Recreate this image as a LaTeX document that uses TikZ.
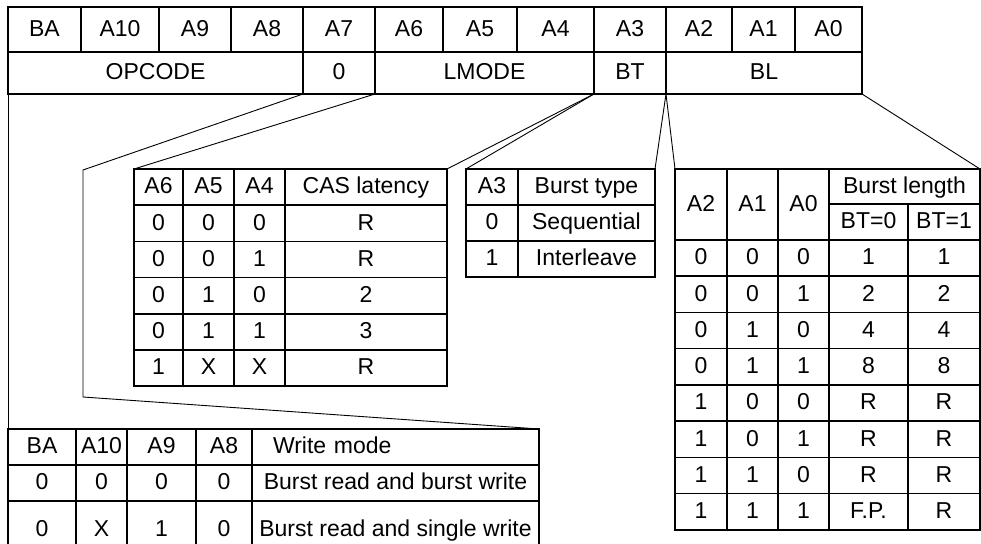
\documentclass[tikz,border=0pt]{standalone}
\usepackage{fontspec}
\setmainfont{Liberation Sans}
\usetikzlibrary{positioning}
\tikzset{
  cell/.style 2 args={draw, line width=.75pt, anchor=north west, inner sep=0pt, outer sep=0pt,
    text height=1.55ex, text depth=.25ex,
    minimum width={(#1)*.5pt}, minimum height={(#2)*.5pt}},
  wire/.style={line width=.45pt}
}
\begin{document}
\begin{tikzpicture}[x=.5pt, y=-.5pt, font=\fontsize{11.5}{13}\selectfont]
  \useasboundingbox (0,0) rectangle (981,544);
  \clip (0,0) rectangle (981,544);
  \foreach \n/\txt/\xa/\xb in {ba/BA/8/81, a10/A10/81/159, a9/A9/159/231, a8/A8/231/303,
      a7/A7/303/375, a6/A6/375/443, a5/A5/443/517, a4/A4/517/594, a3/A3/594/666,
      a2/A2/666/732, a1/A1/732/795, a0/A0/795/862}
    \node[cell={\xb-\xa}{45}] (\n) at (\xa,7) {\txt};
  \foreach \n/\txt/\xa/\xb in {opcode/OPCODE/8/303, zero/0/303/375, lmode/LMODE/375/594,
      bt/BT/594/666, bl/BL/666/862}
    \node[cell={\xb-\xa}{42}] (\n) at (\xa,52) {\txt};

  \def\casx{{134,183,234,285,447}}
  \foreach \row [count=\ri from 0] in {{A6,A5,A4,CAS latency},{0,0,0,R},{0,0,1,R},{0,1,0,2},{0,1,1,3},{1,X,X,R}}
    \foreach \txt [count=\ci from 0] in \row {
      \pgfmathsetmacro\xa{\casx[\ci]}
      \pgfmathsetmacro\xb{\casx[\ci+1]}
      \node[cell={\xb-\xa}{36.2}] (cas-\ri-\ci) at (\xa,169+36.2*\ri) {\txt};
    }

  \def\btx{{466,518,655}}
  \foreach \row [count=\ri from 0] in {{A3,Burst type},{0,Sequential},{1,Interleave}}
    \foreach \txt [count=\ci from 0] in \row {
      \pgfmathsetmacro\xa{\btx[\ci]}
      \pgfmathsetmacro\xb{\btx[\ci+1]}
      \node[cell={\xb-\xa}{36}] (btt-\ri-\ci) at (\xa,169+36*\ri) {\txt};
    }

  \def\blx{{675,727,778,829,908,980}}
  \foreach \n/\txt [count=\ci from 0] in {a2/A2,a1/A1,a0/A0} {
    \pgfmathsetmacro\xa{\blx[\ci]}
    \pgfmathsetmacro\xb{\blx[\ci+1]}
    \node[cell={\xb-\xa}{71}] (blen-\n) at (\xa,169) {\txt};
  }
  \node[cell={151}{35}] (blen-len) at (829,169) {Burst length};
  \node[cell={79}{36}] (blen-bt0) at (829,204) {BT=0};
  \node[cell={72}{36}] (blen-bt1) at (908,204) {BT=1};
  \foreach \row [count=\ri from 0] in {{0,0,0,1,1},{0,0,1,2,2},{0,1,0,4,4},{0,1,1,8,8},
      {1,0,0,R,R},{1,0,1,R,R},{1,1,0,R,R},{1,1,1,F.P.,R}}
    \foreach \txt [count=\ci from 0] in \row {
      \pgfmathsetmacro\xa{\blx[\ci]}
      \pgfmathsetmacro\xb{\blx[\ci+1]}
      \node[cell={\xb-\xa}{36.25}] (blen-\ri-\ci) at (\xa,240+36.25*\ri) {\txt};
    }

  \def\wmx{{8,76,127,196,252,539}}
  \def\wmy{{429,465,501,559}}
  \foreach \txt [count=\ci from 0] in {BA,A10,A9,A8} {
    \pgfmathsetmacro\xa{\wmx[\ci]}
    \pgfmathsetmacro\xb{\wmx[\ci+1]}
    \node[cell={\xb-\xa}{36}] (wm-0-\ci) at (\xa,429) {\txt};
  }
  \node[cell={287}{36}, text width={245*.5pt}, align=left] (wm-0-4) at (252,429) {Write mode};
  \foreach \row [count=\ri from 1] in {{0,0,0,0,Burst read and burst write},{0,X,1,0,Burst read and single write}}
    \foreach \txt [count=\ci from 0] in \row {
      \pgfmathsetmacro\xa{\wmx[\ci]}
      \pgfmathsetmacro\xb{\wmx[\ci+1]}
      \pgfmathsetmacro\ya{\wmy[\ri]}
      \pgfmathsetmacro\yb{\wmy[\ri+1]}
      \node[cell={\xb-\xa}{\yb-\ya}] (wm-\ri-\ci) at (\xa,\ya) {\txt};
    }

  \coordinate (kneeT) at (83,170);
  \coordinate (kneeB) at (83,397);
  \draw[wire] (opcode.south east) -- (kneeT) -- (kneeB) -- (wm-0-4.north east);
  \draw[wire] (opcode.south west) -- (wm-0-0.north west);
  \draw[wire] (lmode.south west) -- (cas-0-0.north west);
  \draw[wire] (bt.south west) -- (cas-0-3.north east);
  \draw[wire] (bt.south west) -- (btt-0-0.north west);
  \draw[wire] (bl.south west) -- (btt-0-1.north east);
  \draw[wire] (bl.south west) -- (blen-a2.north west);
  \draw[wire] (bl.south east) -- (blen-len.north east);
\end{tikzpicture}
\end{document}
